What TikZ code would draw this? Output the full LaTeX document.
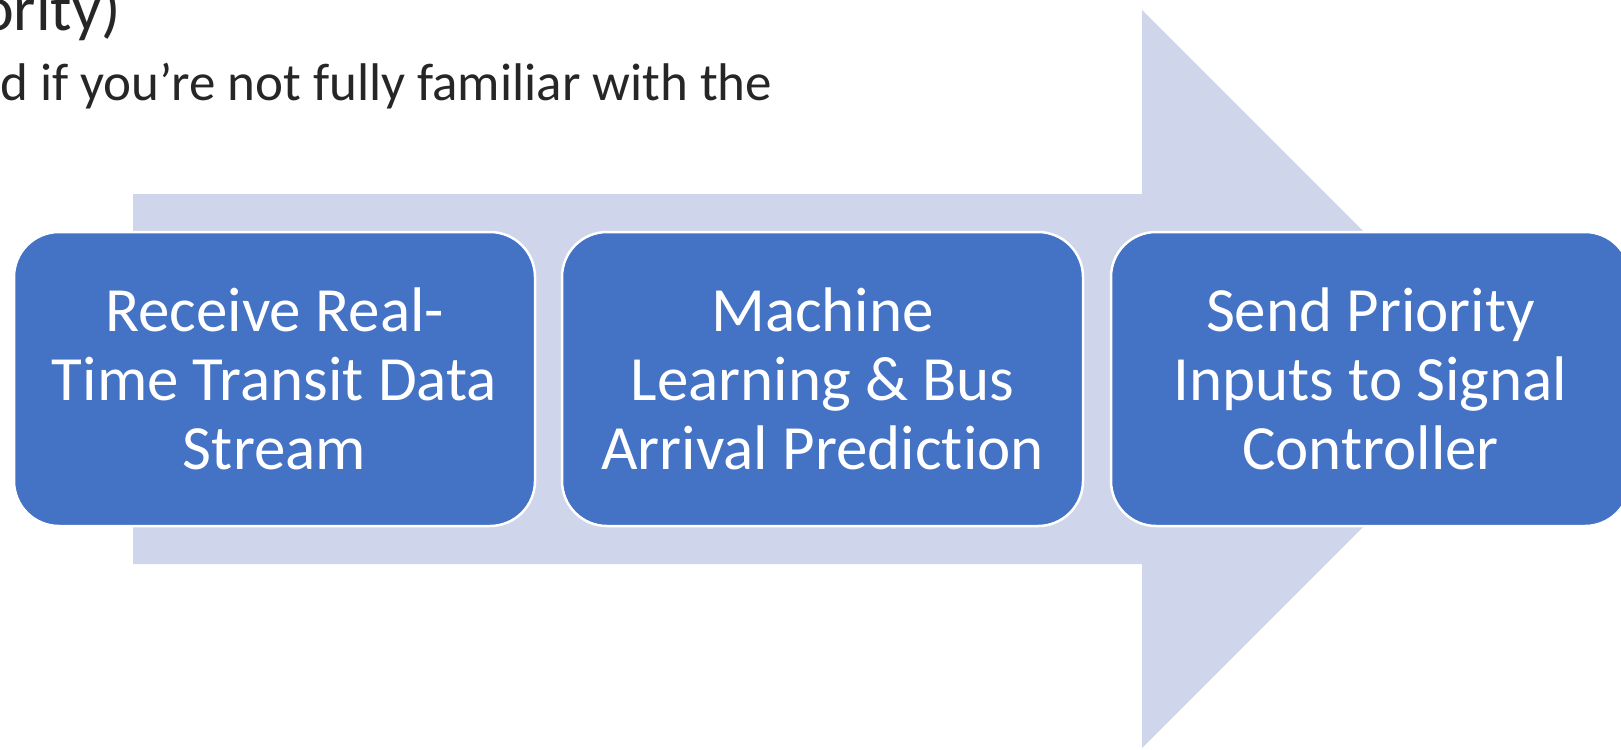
\documentclass[tikz,border=0pt]{standalone}
\usepackage{fontspec}
\setmainfont{Carlito}[Ligatures=NoCommon]
\definecolor{arrowfill}{HTML}{CFD5EA}
\definecolor{boxfill}{HTML}{4472C4}
\definecolor{toptext}{HTML}{262626}
\tikzset{
  stepbox/.style={draw=white, line width=2.5pt, fill=boxfill, rounded corners=45pt},
  boxtext/.style={text=white, align=center, font=\fontsize{63}{69}\selectfont, inner sep=0pt},
  toplabel/.style={text=toptext, anchor=base west, inner sep=0pt}
}
\begin{document}
\begin{tikzpicture}[x=1pt, y=-1pt]
\useasboundingbox (0,0) rectangle (1621,749);
\clip (0,0) rectangle (1621,749);
% top text (partially visible, as in the reference)
\node[toplabel, font=\fontsize{64}{72}\selectfont] (t1) at (-20,31) {ority)};
\node[toplabel, font=\fontsize{53}{60}\selectfont] (t2) at (0,101) {d if you’re not fully familiar with the};
% big arrow
\fill[arrowfill] (133,194) -- (1142,194) -- (1142,10) -- (1511,379) -- (1142,748) -- (1142,564) -- (133,564) -- cycle;
% boxes
\draw[stepbox] (14,232) rectangle (535,526);
\draw[stepbox] (562,232) rectangle (1083,526);
\draw[stepbox] (1111,232) rectangle (1630,526);
\node[boxtext] (b1) at (274.5,379) {Receive Real-\\Time Transit Data\\Stream};
\node[boxtext] (b2) at (822.5,379) {Machine\\Learning \& Bus\\Arrival Prediction};
\node[boxtext] (b3) at (1370.5,379) {Send Priority\\Inputs to Signal\\Controller};
\end{tikzpicture}
\end{document}
